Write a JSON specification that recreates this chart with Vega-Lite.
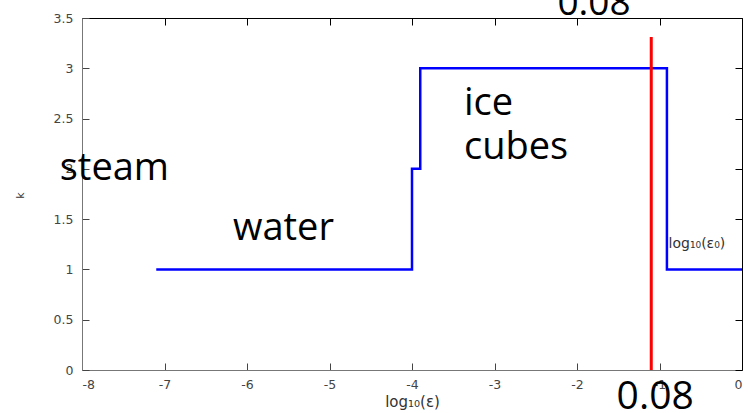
{
  "$schema": "https://vega.github.io/schema/vega-lite/v6.json",
  "width": 660,
  "height": 352,
  "autosize": {"type": "none"},
  "padding": {"left": 82, "top": 18, "right": 8, "bottom": 43},
  "background": "white",
  "config": {
    "view": {"stroke": null},
    "axis": {
      "grid": false,
      "labelFont": "DejaVu Sans",
      "labelFontSize": 12.5,
      "labelColor": "#444444",
      "titleFont": "DejaVu Sans",
      "titleFontWeight": "normal",
      "titleColor": "#333333",
      "tickSize": -7,
      "tickWidth": 1
    }
  },
  "datasets": {
    "k_curve": [
      {"log_eps": -7.1, "k": 1},
      {"log_eps": -4.0, "k": 2},
      {"log_eps": -3.9, "k": 3},
      {"log_eps": -0.91, "k": 1},
      {"log_eps": 0, "k": 1}
    ],
    "threshold": [
      {"log_eps": -1.1, "k_low": 0, "k_high": 3.31}
    ],
    "phases": [
      {"label": "steam", "log_eps": -8.27, "k": 1.89},
      {"label": "ice", "log_eps": -3.37, "k": 2.535},
      {"label": "cubes", "log_eps": -3.37, "k": 2.097},
      {"label": "water", "log_eps": -6.17, "k": 1.292}
    ],
    "top_value": [{"label": "0.08", "log_eps": -1.35, "k": 3.529}],
    "bottom_value": [{"label": "0.08", "log_eps": -1.52, "k": -0.388}],
    "eps0": [{"label": "log₁₀(ε₀)", "log_eps": -0.89, "k": 1.21}]
  },
  "layer": [
    {
      "data": {"name": "k_curve"},
      "mark": {"type": "line", "interpolate": "step-after", "color": "#0000ff", "strokeWidth": 2.5},
      "encoding": {
        "x": {
          "field": "log_eps",
          "type": "quantitative",
          "scale": {"domain": [-8, 0], "nice": false, "zero": false},
          "axis": {
            "orient": "bottom",
            "values": [-8, -7, -6, -5, -4, -3, -2, -1, 0],
            "labelExpr": "toString(datum.value)",
            "domainColor": "#777777",
            "tickColor": "#444444",
            "labelPadding": 15,
            "title": "log₁₀(ε)",
            "titleFontSize": 15,
            "titlePadding": 4
          }
        },
        "y": {
          "field": "k",
          "type": "quantitative",
          "scale": {"domain": [0, 3.5], "nice": false},
          "axis": {
            "orient": "left",
            "values": [0, 0.5, 1, 1.5, 2, 2.5, 3, 3.5],
            "labelExpr": "toString(datum.value)",
            "domainColor": "#777777",
            "tickColor": "#444444",
            "labelPadding": 16,
            "title": "k",
            "titleFontSize": 11,
            "titleX": -57,
            "titleY": 177
          }
        }
      }
    },
    {
      "data": {"name": "threshold"},
      "mark": {"type": "rule", "color": "#ff0000", "strokeWidth": 3},
      "encoding": {
        "x": {
          "field": "log_eps",
          "type": "quantitative",
          "axis": {
            "orient": "top",
            "values": [-8, -7, -6, -5, -4, -3, -2, -1, 0],
            "labels": false,
            "title": null,
            "domainColor": "#000000",
            "tickColor": "#000000"
          }
        },
        "y": {
          "field": "k_low",
          "type": "quantitative",
          "axis": {
            "orient": "right",
            "values": [0, 0.5, 1, 1.5, 2, 2.5, 3, 3.5],
            "labels": false,
            "title": null,
            "domainColor": "#000000",
            "tickColor": "#000000"
          }
        },
        "y2": {"field": "k_high"}
      }
    },
    {
      "data": {"name": "phases"},
      "mark": {"type": "text", "font": "Open Sans", "fontSize": 38, "align": "left", "baseline": "alphabetic", "color": "#000000"},
      "encoding": {
        "x": {"field": "log_eps", "type": "quantitative", "axis": null},
        "y": {"field": "k", "type": "quantitative", "axis": null},
        "text": {"field": "label"}
      }
    },
    {
      "data": {"name": "top_value"},
      "mark": {"type": "text", "font": "Open Sans", "fontSize": 37, "align": "right", "baseline": "alphabetic", "color": "#000000"},
      "encoding": {
        "x": {"field": "log_eps", "type": "quantitative", "axis": null},
        "y": {"field": "k", "type": "quantitative", "axis": null},
        "text": {"field": "label"}
      }
    },
    {
      "data": {"name": "bottom_value"},
      "mark": {"type": "text", "font": "Open Sans", "fontSize": 39, "align": "left", "baseline": "alphabetic", "color": "#000000"},
      "encoding": {
        "x": {"field": "log_eps", "type": "quantitative", "axis": null},
        "y": {"field": "k", "type": "quantitative", "axis": null},
        "text": {"field": "label"}
      }
    },
    {
      "data": {"name": "eps0"},
      "mark": {"type": "text", "font": "DejaVu Sans", "fontSize": 14, "align": "left", "baseline": "alphabetic", "color": "#333333"},
      "encoding": {
        "x": {"field": "log_eps", "type": "quantitative", "axis": null},
        "y": {"field": "k", "type": "quantitative", "axis": null},
        "text": {"field": "label"}
      }
    }
  ]
}
